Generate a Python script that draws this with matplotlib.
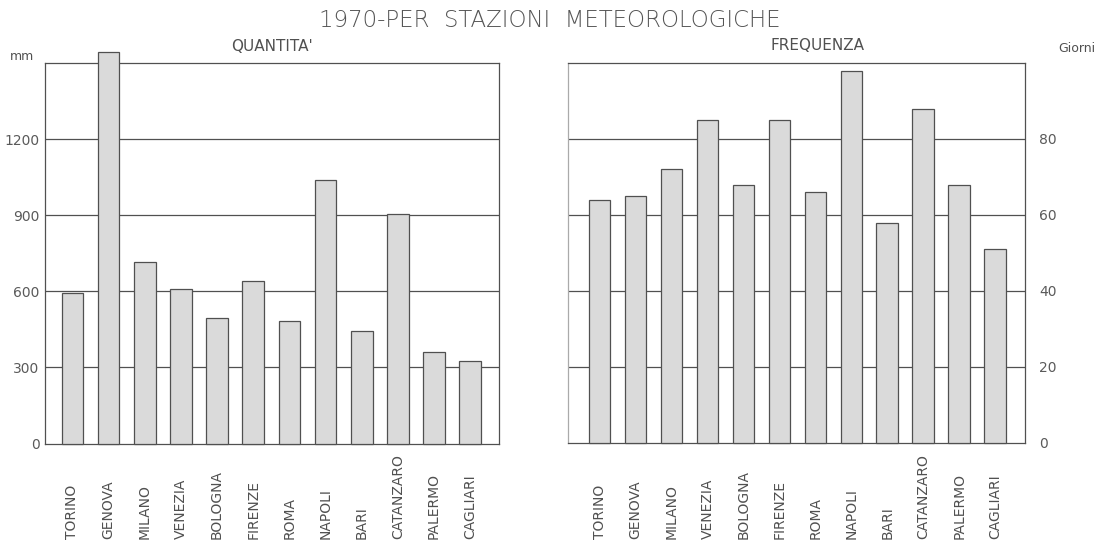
import matplotlib
matplotlib.use("Agg")
import matplotlib.pyplot as plt
import matplotlib.transforms as mtransforms
import numpy as np

stations = ["TORINO", "GENOVA", "MILANO", "VENEZIA", "BOLOGNA", "FIRENZE",
            "ROMA", "NAPOLI", "BARI", "CATANZARO", "PALERMO", "CAGLIARI"]
quantita_mm = [592, 1545, 717, 611, 496, 640, 483, 1040, 445, 904, 359, 326]
frequenza_giorni = [64, 65, 72, 85, 68, 85, 66, 98, 58, 88, 68, 51]

left_ticks = [0, 300, 600, 900, 1200]
right_ticks = [0, 20, 40, 60, 80]

INK = "#505050"
FILL = "#dadada"

plt.rcParams["font.family"] = ["DejaVu Sans"]

fig = plt.figure(figsize=(11.09, 5.46), dpi=100)
ax_l = fig.add_axes([0.0406, 0.1877, 0.4094, 0.6969])
ax_r = fig.add_axes([0.5122, 0.1890, 0.4121, 0.6956])

x = np.arange(len(stations))


def style(ax, ticks, ylim, xlim):
    ax.set_xlim(*xlim)
    ax.set_ylim(*ylim)
    ax.set_yticks(ticks)
    ax.set_xticks([])
    for s in ax.spines.values():
        s.set_color(INK)
        s.set_linewidth(0.9)
    for t in ticks[1:]:
        ax.axhline(t, color=INK, lw=0.9, zorder=1)
    ax.tick_params(axis="y", length=0, pad=4, labelsize=10, labelcolor="#5a5a5a")


ax_l.bar(x, quantita_mm, width=0.6, color=FILL, edgecolor=INK, linewidth=0.9,
         zorder=3, clip_on=False)
style(ax_l, left_ticks, (0, 1500), (-0.76, 11.8))

ax_r.bar(x, frequenza_giorni, width=0.6, color=FILL, edgecolor=INK, linewidth=0.9,
         zorder=3, clip_on=False)
style(ax_r, right_ticks, (0, 100), (-0.876, 11.83))
ax_r.yaxis.tick_right()
ax_r.tick_params(axis="y", pad=10)
ax_r.spines["left"].set_color("#aaaaaa")

for ax in (ax_l, ax_r):
    trans = mtransforms.blended_transform_factory(ax.transData, fig.transFigure)
    for i, name in enumerate(stations):
        ax.text(i, 0.012, name, rotation=90, ha="center", va="bottom",
                fontsize=10, color=INK, transform=trans)

fig.text(0.496, 0.962, "1970-PER  STAZIONI  METEOROLOGICHE", ha="center", va="center",
         fontsize=16.5, color="#555555", fontweight="light")
fig.text(0.245, 0.914, "QUANTITA'", ha="center", va="center", fontsize=11, color=INK)
fig.text(0.737, 0.916, "FREQUENZA", ha="center", va="center", fontsize=11, color=INK)
fig.text(0.009, 0.896, "mm", ha="left", va="center", fontsize=9, color=INK)
fig.text(0.954, 0.912, "Giorni", ha="left", va="center", fontsize=9, color=INK)

fig.savefig("out.png", dpi=100)
